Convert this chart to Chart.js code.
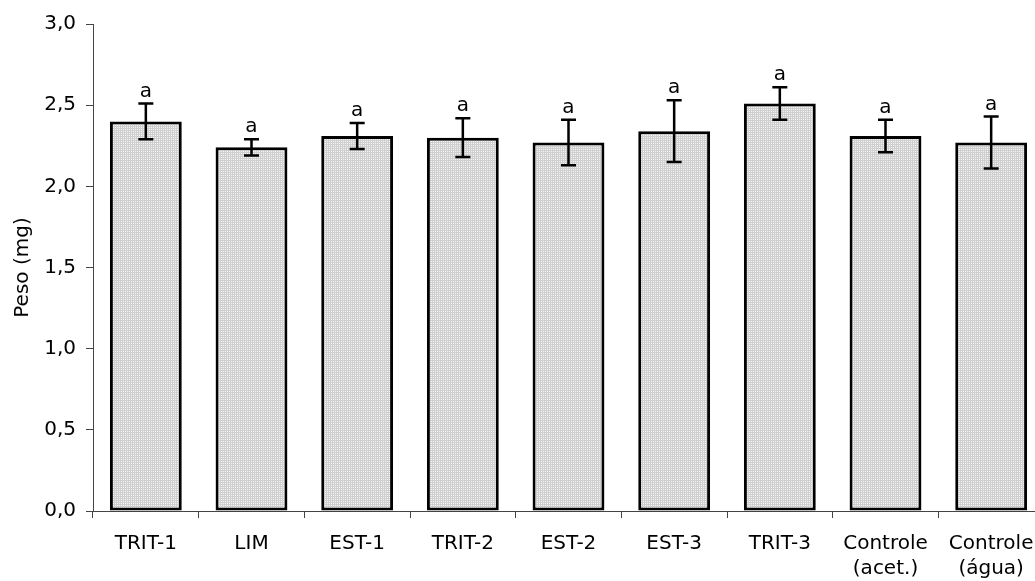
<!DOCTYPE html>
<html>
<head>
<meta charset="utf-8">
<script src="https://cdn.jsdelivr.net/npm/chart.js@4"></script>
<style>
html,body{margin:0;padding:0;background:#fff;overflow:hidden;}
#wrap{width:1050px;height:581px;}
</style>
</head>
<body>
<div id="wrap"><canvas id="c" width="1050" height="581"></canvas></div>
<script>
const categories = ['TRIT-1','LIM','EST-1','TRIT-2','EST-2','EST-3','TRIT-3',['Controle','(acet.)'],['Controle','(água)']];
const pesoMedio = [2.40, 2.24, 2.31, 2.30, 2.27, 2.34, 2.51, 2.31, 2.27];
const errHigh   = [2.51, 2.29, 2.39, 2.42, 2.41, 2.53, 2.61, 2.41, 2.43];
const errLow    = [2.29, 2.19, 2.23, 2.18, 2.13, 2.15, 2.41, 2.21, 2.11];
const sigLetters = ['a','a','a','a','a','a','a','a','a'];
const yTickLabels = {0:'0,0',0.5:'0,5',1:'1,0',1.5:'1,5',2:'2,0',2.5:'2,5',3:'3,0'};

// fine light-grey stipple fill
const pc = document.createElement('canvas');
pc.width = 2; pc.height = 2;
const pctx = pc.getContext('2d');
pctx.fillStyle = '#cfcfcf'; pctx.fillRect(0,0,2,2);
pctx.fillStyle = '#f4f4f4'; pctx.fillRect(1,1,1,1);
const ctx = document.getElementById('c').getContext('2d');
const pattern = ctx.createPattern(pc, 'repeat');

const FONT = 'DejaVu Sans';

const errorBars = {
  id: 'errorBars',
  afterDatasetsDraw(chart) {
    const c = chart.ctx;
    const meta = chart.getDatasetMeta(0);
    const ys = chart.scales.y;
    c.save();
    c.strokeStyle = '#000';
    c.lineWidth = 2.5;
    c.fillStyle = '#000';
    c.font = '20px "' + FONT + '"';
    c.textAlign = 'center';
    c.textBaseline = 'alphabetic';
    meta.data.forEach((bar, i) => {
      const x = bar.x;
      const yh = ys.getPixelForValue(errHigh[i]);
      const yl = ys.getPixelForValue(errLow[i]);
      c.beginPath();
      c.moveTo(x, yh); c.lineTo(x, yl);
      c.moveTo(x - 7.5, yh); c.lineTo(x + 7.5, yh);
      c.moveTo(x - 7.5, yl); c.lineTo(x + 7.5, yl);
      c.stroke();
      c.fillText(sigLetters[i], x, yh - 7);
    });
    c.restore();
  }
};

new Chart(ctx, {
  type: 'bar',
  data: {
    labels: categories,
    datasets: [{
      data: pesoMedio,
      backgroundColor: pattern,
      borderColor: '#000',
      borderWidth: 3,
      borderSkipped: false,
      categoryPercentage: 1,
      barPercentage: 0.68
    }]
  },
  options: {
    responsive: false,
    animation: false,
    devicePixelRatio: 1,
    layout: { padding: { top: 24, right: 6, left: 0, bottom: 0 } },
    plugins: { legend: { display: false }, tooltip: { enabled: false } },
    scales: {
      x: {
        grid: { display: true, drawOnChartArea: false, drawTicks: true, tickLength: 7, color: '#444', offset: true },
        border: { display: true, color: '#444', width: 1 },
        ticks: { color: '#000', font: { family: FONT, size: 20, lineHeight: 1.25 }, padding: 13, maxRotation: 0, autoSkip: false },
        afterFit(s) { s.height = 70; }
      },
      y: {
        min: 0, max: 3,
        grid: { display: true, drawOnChartArea: false, drawTicks: true, tickLength: 7, color: '#444' },
        border: { display: true, color: '#444', width: 1 },
        ticks: {
          stepSize: 0.5, color: '#000', font: { family: FONT, size: 20 }, padding: 10,
          callback: (v) => yTickLabels[v]
        },
        title: { display: true, text: 'Peso (mg)', color: '#000', font: { family: FONT, size: 20 }, padding: { top: 11, bottom: 0 } },
        afterFit(s) { s.width = 93; }
      }
    }
  },
  plugins: [errorBars]
});
</script>
</body>
</html>
